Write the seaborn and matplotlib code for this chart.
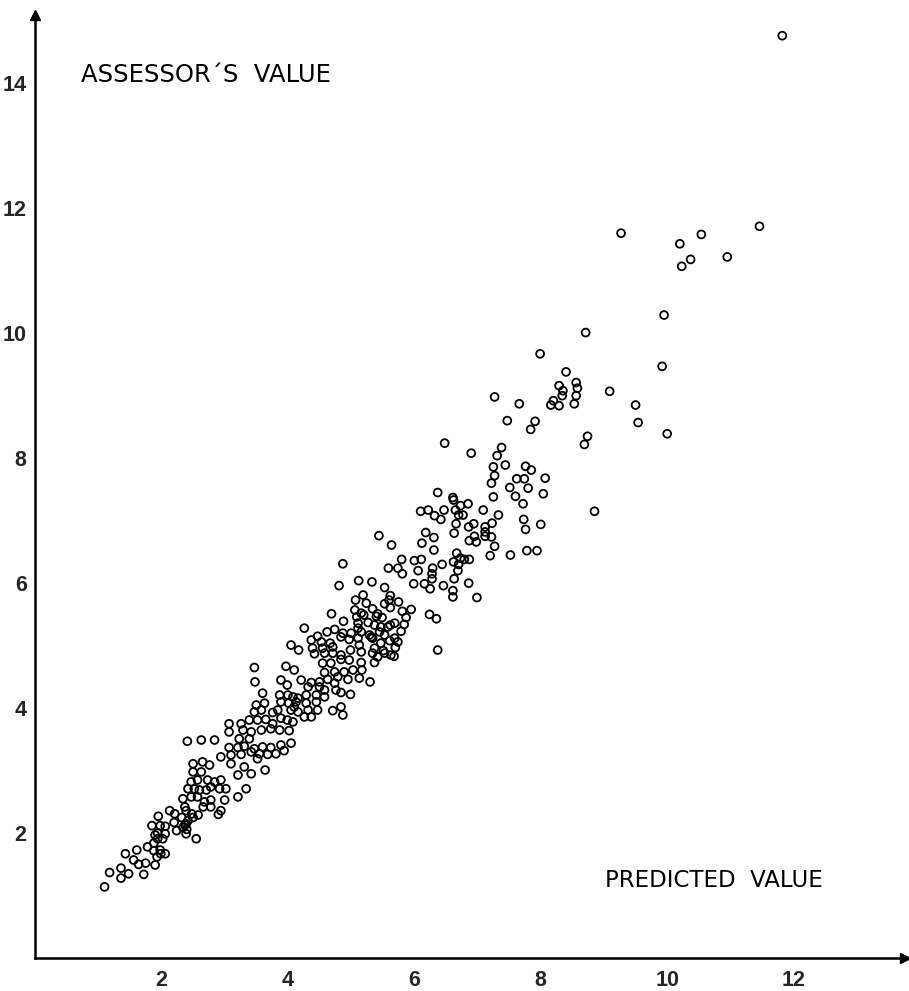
import matplotlib
matplotlib.use("Agg")
import matplotlib.pyplot as plt
import seaborn as sns
import numpy as np
import pandas as pd

# ---- data (predicted value, assessor's value) ----
pred_top = [11.82, 9.27, 10.20, 10.54, 11.46, 10.23, 10.37, 10.95, 9.95]
assess_top = [14.75, 11.59, 11.42, 11.57, 11.70, 11.06, 11.17, 11.21, 10.28]

pred_upper = [8.71, 7.99, 9.92, 8.40, 8.56, 8.29, 8.35, 8.58, 9.09, 8.34, 8.56, 8.20, 8.16, 8.29,
              8.53, 7.66, 7.27, 9.50, 9.54, 10.00, 7.47, 7.91, 7.84, 8.74, 8.69, 7.38, 6.90, 7.31,
              7.25, 7.44, 7.76, 7.85, 7.27, 7.62, 7.74, 8.07, 7.22, 7.51, 7.80, 7.60, 8.04, 7.25,
              7.72, 7.09, 7.33, 8.85, 7.73, 8.00, 7.76, 6.94, 7.23, 7.12, 7.12, 7.12, 7.22, 6.95,
              6.98, 7.27, 7.78, 7.94, 7.20, 7.52, 6.48, 6.37, 6.61]
assess_upper = [10.00, 9.66, 9.46, 9.37, 9.20, 9.15, 9.07, 9.11, 9.06, 8.99, 8.99, 8.91, 8.84, 8.83,
                8.86, 8.86, 8.97, 8.84, 8.56, 8.38, 8.59, 8.58, 8.45, 8.34, 8.21, 8.16, 8.07, 8.03,
                7.85, 7.88, 7.86, 7.80, 7.71, 7.66, 7.66, 7.67, 7.59, 7.52, 7.51, 7.38, 7.42, 7.37,
                7.26, 7.16, 7.08, 7.14, 7.01, 6.93, 6.85, 6.94, 6.95, 6.89, 6.81, 6.74, 6.73, 6.74,
                6.65, 6.58, 6.51, 6.51, 6.43, 6.44, 8.23, 7.44, 7.36]

pred_mid = [6.10, 6.22, 6.32, 6.42, 6.47, 6.62, 6.65, 6.73, 6.85, 6.70, 6.77, 6.66, 6.86, 6.18,
            6.63, 5.44, 6.31, 6.12, 6.87, 5.64, 6.31, 6.67, 6.73, 6.79, 6.87, 6.62, 6.70, 5.80,
            6.00, 6.11, 6.44, 5.59, 5.74, 5.81, 6.06, 6.29, 6.28, 6.28, 6.69, 6.63, 6.86, 5.99,
            6.16, 6.25, 6.46, 6.61, 6.61, 6.99, 5.33, 5.53, 5.62, 5.75, 5.53, 5.60, 5.62, 5.34,
            5.42, 5.49, 5.81, 5.95, 5.87, 6.24, 6.35, 5.58, 5.69, 5.84, 5.79, 5.37, 5.45, 5.53,
            5.69, 5.74, 5.61, 5.32, 5.37, 5.51, 5.70, 6.37, 5.42, 5.68]
assess_mid = [7.14, 7.16, 7.07, 7.01, 7.16, 7.32, 7.16, 7.23, 7.26, 7.08, 7.08, 6.94, 6.89, 6.80,
              6.79, 6.75, 6.72, 6.63, 6.67, 6.60, 6.52, 6.47, 6.39, 6.37, 6.37, 6.33, 6.29, 6.37,
              6.35, 6.37, 6.29, 6.23, 6.23, 6.14, 6.19, 6.23, 6.14, 6.06, 6.19, 6.06, 5.99, 5.98,
              5.98, 5.90, 5.95, 5.87, 5.77, 5.76, 6.01, 5.92, 5.79, 5.69, 5.66, 5.72, 5.60, 5.58,
              5.50, 5.44, 5.54, 5.57, 5.44, 5.49, 5.42, 5.29, 5.35, 5.33, 5.22, 5.32, 5.21, 5.16,
              5.11, 5.05, 5.07, 5.13, 4.95, 4.91, 4.96, 4.92, 4.81, 4.82]

pred_five = [4.87, 5.12, 4.81, 5.19, 5.07, 5.24, 5.06, 5.16, 4.69, 5.09, 5.20, 5.40, 4.88, 5.11,
             5.27, 4.26, 4.74, 5.11, 5.47, 5.62, 4.47, 4.62, 4.87, 5.00, 5.16, 5.29, 4.37, 4.53,
             4.67, 4.84, 4.97, 5.11, 5.34, 5.47, 4.05, 4.39, 4.55, 4.71, 5.13, 4.17, 4.42, 4.58,
             4.71, 4.84, 4.99, 5.16, 5.34, 5.53]
assess_five = [6.30, 6.03, 5.95, 5.80, 5.72, 5.67, 5.56, 5.51, 5.50, 5.45, 5.48, 5.46, 5.38, 5.35,
               5.36, 5.27, 5.25, 5.27, 5.29, 5.32, 5.14, 5.21, 5.19, 5.19, 5.21, 5.16, 5.08, 5.05,
               5.03, 5.13, 5.09, 5.11, 5.11, 5.03, 5.00, 4.95, 4.95, 4.97, 5.00, 4.92, 4.86, 4.87,
               4.87, 4.84, 4.92, 4.89, 4.87, 4.87]

pred_four = [4.55, 4.68, 4.84, 4.97, 5.16, 5.37, 4.10, 4.58, 4.74, 4.89, 5.03, 5.17, 5.63, 4.21,
             4.37, 4.50, 4.63, 4.79, 4.95, 5.13, 5.30, 4.32, 4.50, 4.58, 4.76, 4.84, 4.99, 4.74,
             4.16, 4.29, 4.45, 4.58, 4.10, 4.29, 4.45, 4.71, 4.84, 4.87, 4.16, 4.32, 4.47, 4.26,
             4.37]
assess_four = [4.71, 4.71, 4.77, 4.76, 4.72, 4.72, 4.60, 4.56, 4.57, 4.57, 4.60, 4.60, 4.84, 4.44,
               4.40, 4.41, 4.45, 4.49, 4.45, 4.47, 4.41, 4.33, 4.33, 4.28, 4.28, 4.24, 4.21, 4.39,
               4.15, 4.20, 4.20, 4.17, 4.01, 4.07, 4.09, 3.95, 4.01, 3.88, 3.93, 3.96, 3.96, 3.85,
               3.85]

pred_three = [3.47, 3.97, 3.48, 3.89, 3.99, 3.60, 3.87, 4.00, 4.08, 3.50, 3.63, 3.89, 4.01, 4.13,
              3.47, 3.58, 3.76, 3.84, 4.05, 3.39, 3.52, 3.65, 3.76, 3.89, 3.99, 4.08, 3.07, 3.26,
              3.07, 3.29, 3.42, 3.58, 3.73, 3.87, 4.02, 2.63, 2.84, 3.23, 3.39, 3.07, 3.21, 3.31,
              3.47, 3.60, 3.73, 3.89, 4.05, 2.94, 3.10, 3.26, 3.42, 3.55, 3.68, 3.81, 3.94, 2.41,
              3.64, 3.52, 3.31, 3.42, 3.21, 3.10]
assess_three = [4.64, 4.66, 4.41, 4.44, 4.36, 4.23, 4.20, 4.20, 4.17, 4.04, 4.07, 4.09, 4.07, 4.09,
                3.93, 3.96, 3.92, 3.96, 3.96, 3.80, 3.80, 3.81, 3.74, 3.83, 3.80, 3.77, 3.74, 3.74,
                3.61, 3.64, 3.61, 3.64, 3.66, 3.64, 3.63, 3.48, 3.48, 3.50, 3.50, 3.36, 3.36, 3.38,
                3.34, 3.37, 3.36, 3.40, 3.43, 3.21, 3.24, 3.25, 3.29, 3.26, 3.25, 3.26, 3.31, 3.46,
                3.00, 3.18, 3.05, 2.94, 2.92, 3.10]

pred_low = [2.50, 2.65, 2.76, 2.63, 2.50, 2.47, 2.57, 2.73, 2.84, 2.94, 2.42, 2.52, 2.60, 2.71,
            2.78, 2.92, 3.02, 3.34, 3.21, 2.34, 2.47, 2.57, 2.68, 2.78, 3.00, 2.78]
assess_low = [3.10, 3.13, 3.08, 2.97, 2.97, 2.81, 2.84, 2.84, 2.81, 2.84, 2.70, 2.70, 2.68, 2.68,
              2.73, 2.70, 2.70, 2.70, 2.57, 2.54, 2.57, 2.57, 2.49, 2.52, 2.52, 2.41]

pred_bottom = [1.10, 1.18, 1.36, 1.36, 1.48, 1.72, 1.56, 1.64, 1.75, 1.90, 1.43, 1.61, 1.78, 1.88,
               1.98, 2.06, 1.93, 1.99, 1.88, 1.94, 2.02, 1.90, 2.06, 1.94, 1.85, 1.98, 2.06, 1.95,
               2.13, 2.21, 2.20, 2.24, 2.34, 2.32, 2.39, 2.55, 2.37, 2.48, 2.58, 2.39, 2.39, 2.42,
               2.50, 2.66, 2.90, 2.94, 2.37, 2.40]
assess_bottom = [1.13, 1.36, 1.27, 1.43, 1.34, 1.33, 1.56, 1.49, 1.51, 1.48, 1.66, 1.72, 1.77, 1.71,
                 1.72, 1.66, 1.61, 1.66, 1.83, 1.90, 1.90, 1.96, 1.98, 1.99, 2.11, 2.11, 2.10, 2.26,
                 2.35, 2.30, 2.16, 2.03, 2.08, 2.24, 1.98, 1.90, 2.41, 2.30, 2.28, 2.35, 2.14, 2.19,
                 2.24, 2.41, 2.29, 2.35, 2.12, 2.05]

x_ticks = [2, 4, 6, 8, 10, 12]
y_ticks = [2, 4, 6, 8, 10, 12, 14]
y_label = "ASSESSOR´S  VALUE"
x_label = "PREDICTED  VALUE"

predicted = pred_top + pred_upper + pred_mid + pred_five + pred_four + pred_three + pred_low + pred_bottom
assessed = assess_top + assess_upper + assess_mid + assess_five + assess_four + assess_three + assess_low + assess_bottom
df = pd.DataFrame({"predicted": predicted, "assessed": assessed})

sns.set_style("white")
plt.rcParams["font.family"] = ["DejaVu Sans"]

fig = plt.figure(figsize=(9.09, 9.91), dpi=100)
ax = fig.add_axes([0.0385, 0.0338, 0.957, 0.951])

sns.scatterplot(data=df, x="predicted", y="assessed", ax=ax, marker="o",
                s=32, facecolor="none", edgecolor="black", linewidth=1.3, legend=False)

ax.set_xlim(0, 13.76)
ax.set_ylim(0, 15.08)
for side in ["top", "right"]:
    ax.spines[side].set_visible(False)
for side in ["left", "bottom"]:
    ax.spines[side].set_linewidth(1.8)
    ax.spines[side].set_color("black")

ax.plot(1, 0, ">", color="black", markersize=7, transform=ax.transAxes, clip_on=False)
ax.plot(0, 1, "^", color="black", markersize=7, transform=ax.transAxes, clip_on=False)

ax.set_xticks(x_ticks)
ax.set_yticks(y_ticks)
ax.set_xticklabels([str(t) for t in x_ticks], fontfamily="Liberation Sans", fontweight="bold", fontsize=15.5)
ax.set_yticklabels([str(t) for t in y_ticks], fontfamily="Liberation Sans", fontweight="bold", fontsize=15.5)
ax.tick_params(axis="x", direction="in", length=5, width=1.3, pad=9)
ax.tick_params(axis="y", direction="in", length=5, width=1.3, pad=6)
ax.set_xlabel("")
ax.set_ylabel("")

ax.text(0.73, 14.12, y_label, fontsize=17.5, ha="left", va="center", color="black")
ax.text(9.02, 1.24, x_label, fontsize=16.5, ha="left", va="center", color="black")

fig.savefig("out.png", dpi=100, facecolor="white")
